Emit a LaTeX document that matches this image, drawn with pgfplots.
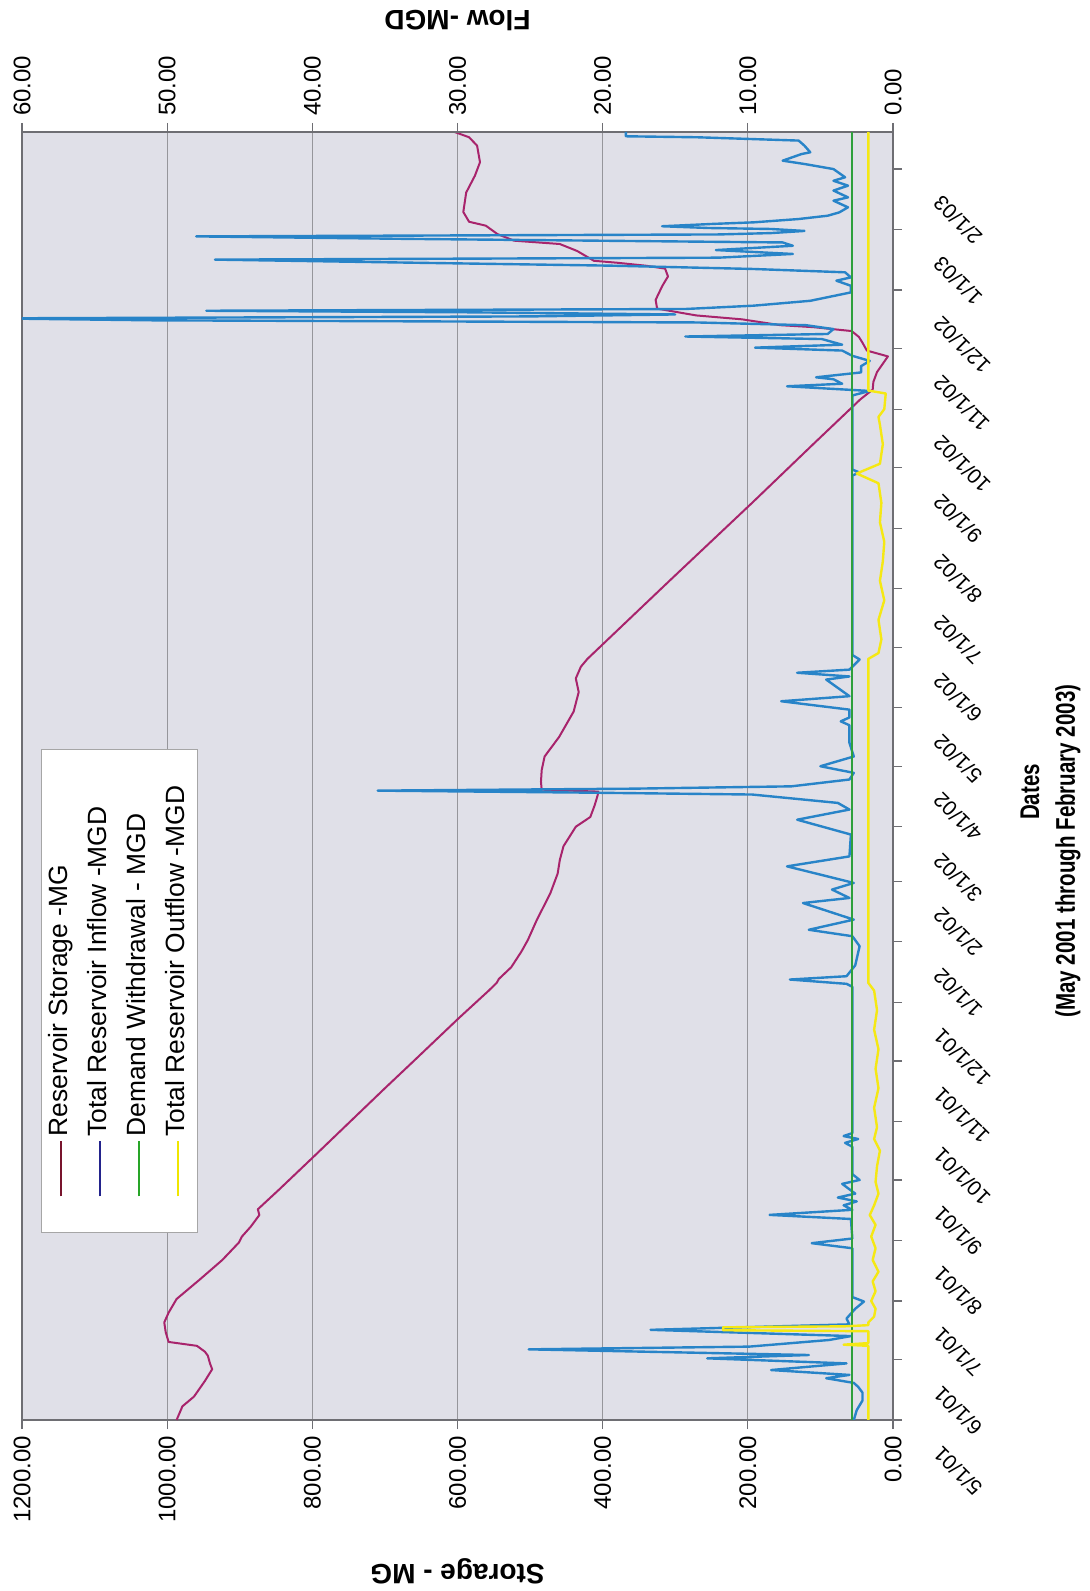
\documentclass[border=0pt]{standalone}
\usepackage{fontspec}
\setmainfont{Liberation Sans}
\newfontfamily\narrowfont[FakeStretch=0.76]{Liberation Sans}
\usepackage{pgfplots}
\usepackage{pgfplotstable}
\pgfplotsset{compat=1.18}
\definecolor{stor}{RGB}{168,36,108}
\definecolor{inflow}{RGB}{40,132,200}
\definecolor{demand}{RGB}{46,160,60}
\definecolor{outflow}{RGB}{245,232,20}
\definecolor{plotbg}{RGB}{224,224,232}
\definecolor{framegray}{RGB}{110,110,115}
\definecolor{gridgray}{RGB}{150,150,155}
\definecolor{legstor}{RGB}{120,20,45}
\definecolor{leginflow}{RGB}{35,35,140}
\definecolor{legdemand}{RGB}{40,165,40}
\definecolor{legoutflow}{RGB}{240,230,0}

\pgfplotstableread{
day s
0 987
7 979
12 963
20 948
26 938
29 941
33 944
35 948
38 959
40 998
45 1002
50 1004
55 998
62 987
72 955
82 924
91 901
94 897
99 885
105 873
108 875
118 846
135 798
155 742
170 700
183 663
206 598
220 557
224 546
226 543
232 526
240 512
246 503
256 491
270 472
280 462
287 459
294 454
304 437
309 417
315 411
320 407
322 406
323 484
327 485
333 484
340 480
350 460
363 440
373 433
380 437
386 430
390 421
430 308
470 194
500 110
523 45
528 28
532 27
537 22
545 7
548 36
552 42
555 47
558 57
560 110
561 155
564 208
566 271
568 302
569.5 325
574 327
581 318
586 310
590 314
591.5 341
593 380
594 412
596.6 424
599 435
602.6 459
604.3 522
607.7 545
612 561
614 584
619 592
629 588
637.6 576
644.5 569
653 573
657.3 584
660 604
}\storage

\pgfplotstableread{
day f
0 2.7
5 2.5
10 2.1
14 2.1
17 2.4
19 2.7
21.4 4.6
23.1 3.0
25.6 8.4
29 3.2
31.6 12.8
33.3 5.8
36.2 25.1
37.6 9.9
41 4.4
43 2.9
46.2 16.7
47.3 11.4
49 3.0
52 3.2
57 2.6
60.7 2.0
63 2.8
88 2.8
90.6 5.6
93 2.8
103 2.9
105.1 8.5
107.7 2.8
110 3.4
112 2.5
114 3.8
116 2.6
121 3.5
123 2.3
126 2.8
140 2.8
142 3.3
144 2.4
145.5 3.4
147 2.8
222 2.8
223.5 3.2
225.7 7.1
227.4 3.2
233 2.6
242.8 2.3
247.9 2.8
251.2 5.8
256.4 2.7
264.9 6.2
267.5 3.0
271.8 4.2
275.2 2.7
283.7 7.3
288.8 3.0
300 2.9
307.6 6.6
312.8 3.0
316.2 3.8
320.5 9.7
321.5 21.4
322.5 35.5
323.5 18
324.7 7.0
328.2 3.0
331.6 2.7
335 5.0
340 2.7
347 3.0
356 3.0
358 3.6
360 3.0
364 3.0
368.3 7.7
370.9 3.0
379.4 4.6
381 3.0
382.9 6.6
384.5 3.0
389.7 2.3
392 2.8
484 2.8
485.5 2.3
487 2.8
525 2.8
527.3 1.6
529.7 7.3
531 3.5
533.3 4.1
534.3 5.3
536.8 2.2
540 2.2
542.7 1.6
545.3 2.8
548 3.5
549.5 9.5
551 3.5
553.9 4.9
555.2 14.3
556.5 4.5
559 4.1
561 6.0
562.4 13.5
563.5 51.0
564.5 62.0
565.5 25.0
566.5 15.0
567.6 29.2
568.4 47.3
569.3 14.3
571 9.6
573.5 5.7
577.8 2.9
581.2 2.9
583.8 3.9
585.5 2.9
588.1 3.3
589.8 9.6
591.5 19.4
592.9 32.0
594.6 46.7
595.6 12.0
597.5 6.9
599.5 12.2
601.7 6.9
603.4 7.6
605.2 33.1
606.5 48.0
607.5 12.0
608.2 8.4
609.3 6.1
610.3 8.4
610.8 12.7
611.7 15.9
612.9 12.4
613.7 9.6
615.4 6.5
617.1 4.5
618.8 3.7
621.4 3.1
624.8 4.1
626.5 3.1
630 4.1
632.5 3.1
635 4.1
636.8 3.3
641 4.1
643.6 6.1
645.3 7.6
648.7 6.3
649.6 5.7
653 6.1
655.6 6.5
657.3 13.5
657.8 18.4
660 18.4
}\inflowtab

\pgfplotstableread{
day o
0 1.7
38 1.7
38.6 3.4
39.4 1.7
45.5 1.7
46 11.7
47.5 11.7
48 3.3
48.6 1.7
50 1.7
53 1.3
57 1.2
61 1.5
66 1.2
71 1.4
76 1.0
82 1.4
88 1.2
94 1.5
100 1.2
105 1.6
110 1.3
116 1.0
122 1.2
130 1.1
138 0.9
144 1.3
150 1.1
160 1.3
170 1.0
180 1.2
190 1.0
200 1.3
210 1.1
220 1.3
224 1.7
390 1.7
393 1.0
400 0.8
410 1.0
420 0.6
430 0.9
440 0.7
450 0.6
460 0.9
470 0.8
480 1.0
485 2.5
490 0.9
500 0.7
510 0.9
514 1.0
518 0.6
526 0.5
527.5 1.7
660 1.7
}\outflowtab

\pgfplotstableread{
day d
0 2.8
660 2.8
}\demandtab

\begin{document}
\begin{tikzpicture}[rotate=90, transform shape]
\begin{axis}[
  name=main,
  at={(0pt,0pt)}, anchor=south west,
  scale only axis, width=644pt, height=435.5pt,
  xmin=0, xmax=660, ymin=0, ymax=1200,
  axis background/.style={fill=plotbg},
  axis line style={draw=framegray, line width=0.9pt},
  xtick={0,31,61,92,123,153,184,214,245,276,304,335,365,396,426,457,488,518,549,579,610,641},
  xticklabels={5/1/01,6/1/01,7/1/01,8/1/01,9/1/01,10/1/01,11/1/01,12/1/01,1/1/02,2/1/02,3/1/02,4/1/02,5/1/02,6/1/02,7/1/02,8/1/02,9/1/02,10/1/02,11/1/02,12/1/02,1/1/03,2/1/03},
  xtick pos=left, ytick pos=left,
  ytick={0,200,...,1200},
  yticklabel={\pgfmathprintnumber[fixed,fixed zerofill,precision=2,1000 sep={}]{\tick}},
  /pgf/number format/assume math mode=true,
  tick align=outside, major tick length=4.5pt,
  tick style={draw=framegray, line width=0.6pt},
  ymajorgrids, grid style={draw=gridgray, line width=0.5pt},
  xticklabel style={font=\fontsize{10.5}{12}\selectfont, xshift=-18pt, yshift=-9.8pt, rotate=45, anchor=north east},
  yticklabel style={font=\fontsize{12}{14}\selectfont},
  every axis y label/.style={at={(axis description cs:-0.1172,0.5)}, rotate=90, anchor=center, font=\bfseries\fontsize{14}{16}\selectfont},
  ylabel={Storage - MG},
  legend image code/.code={\draw[#1] (0pt,0pt) -- (27.5pt,0pt);},
  legend cell align=left,
  legend style={at={(axis description cs:0.1452,0.978)}, anchor=north west,
    draw=gray!70, fill=white, line width=0.5pt,
    font=\fontsize{13.2}{15}\selectfont,
    inner xsep=17.5pt, inner ysep=2.5pt, row sep=5pt,
    nodes={inner ysep=1pt, text height=9.5pt, text depth=3pt}},
]
\addplot[stor, line width=1pt, line join=round, forget plot] table[x=day,y=s]{\storage};
\addlegendimage{legstor, line width=1pt}
\addlegendentry{\makebox[174pt][l]{Reservoir Storage -MG}}
\addlegendimage{leginflow, line width=1pt}
\addlegendentry{\makebox[174pt][l]{Total Reservoir Inflow -MGD}}
\addlegendimage{legdemand, line width=1pt}
\addlegendentry{\makebox[174pt][l]{Demand Withdrawal - MGD}}
\addlegendimage{legoutflow, line width=1pt}
\addlegendentry{\makebox[174pt][l]{Total Reservoir Outflow -MGD}}
\end{axis}
\begin{axis}[
  at={(0pt,0pt)}, anchor=south west,
  scale only axis, width=644pt, height=435.5pt,
  xmin=0, xmax=660, ymin=0, ymax=60,
  axis x line=none, axis y line*=right,
  axis line style={draw=framegray, line width=0.9pt},
  ytick={0,10,...,60},
  yticklabel={\pgfmathprintnumber[fixed,fixed zerofill,precision=2]{\tick}},
  /pgf/number format/assume math mode=true,
  tick align=outside, major tick length=4.5pt,
  tick style={draw=framegray, line width=0.6pt},
  yticklabel style={font=\fontsize{12}{14}\selectfont},
  every axis y label/.style={at={(axis description cs:1.0862,0.5)}, rotate=90, anchor=center, font=\bfseries\fontsize{14}{16}\selectfont},
  ylabel={Flow -MGD},
]
\addplot[inflow, line width=1.2pt, line join=round] table[x=day,y=f]{\inflowtab};
\addplot[demand, line width=1pt] table[x=day,y=d]{\demandtab};
\addplot[outflow, line width=1.2pt, line join=round] table[x=day,y=o]{\outflowtab};
\end{axis}
\node[font=\narrowfont\bfseries\fontsize{13.5}{16}\selectfont] at (314pt,-68.5pt) {Dates};
\node[font=\narrowfont\bfseries\fontsize{13.5}{16}\selectfont] at (284.5pt,-87.5pt) {(May 2001 through February 2003)};
\pgfresetboundingbox
\path[use as bounding box] (-85.5pt,-98pt) rectangle (710pt,446.5pt);
\end{tikzpicture}
\end{document}
